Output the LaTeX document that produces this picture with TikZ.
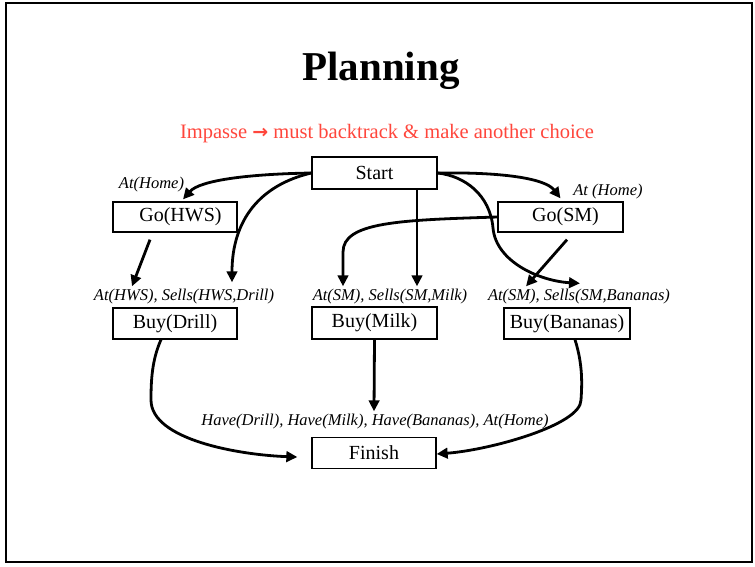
\documentclass[tikz,border=0pt]{standalone}
\usepackage{fontspec}
\setmainfont{Liberation Serif}
\newfontfamily\arrowfont{DejaVu Sans}
\usetikzlibrary{arrows.meta,calc}
\begin{document}
\begin{tikzpicture}[x=1pt,y=-1pt,
  box/.style={draw,line width=1.3pt,rectangle,inner sep=0pt,minimum width=125pt,minimum height=31pt,font=\fontsize{20}{24}\selectfont},
  lab/.style={font=\fontsize{16.5}{19}\selectfont\itshape,inner sep=0pt},
  conn/.style={line width=2.8pt,-{Triangle[length=11pt,width=10.5pt]}},
]
\useasboundingbox (0,0) rectangle (755,566);
\draw[line width=1.6pt] (6,3) rectangle (752,562);

\node[font=\fontsize{41}{48}\selectfont\bfseries] (title) at (381,71) {Planning};
\node[font=\fontsize{20.5}{24}\selectfont,text={rgb,255:red,255;green,70;blue,60}] (impasse) at (387,134) {Impasse {\arrowfont\bfseries\fontsize{19}{24}\selectfont →} must backtrack \& make another choice};

\node[box,minimum height=32pt] (start) at (374.5,173) {Start\hspace{10pt}};
\node[box,minimum width=124pt,minimum height=30pt] (gohws) at (175,217) {\hspace{11pt}Go(HWS)};
\node[box,minimum height=30pt] (gosm) at (560.5,217) {\hspace{10pt}Go(SM)};
\node[box,minimum width=124pt] (buydrill) at (175,323.5) {Buy(Drill)\hspace{22pt}};
\node[box,minimum height=32pt] (buymilk) at (374.5,323) {Buy(Milk)\hspace{10pt}};
\node[box,minimum width=126pt] (buybananas) at (567,323.5) {Buy(Bananas)};
\node[box,minimum width=124pt] (finish) at (374,453) {Finish\hspace{8pt}};

\node[lab] (athome1) at (151.5,185) {At(Home)};
\node[lab] (athome2) at (608,192) {At (Home)};
\node[lab] (labdrill) at (184,297) {At(HWS), Sells(HWS,Drill)};
\node[lab] (labmilk) at (390,297) {At(SM), Sells(SM,Milk)};
\node[lab] (labban) at (579,297) {At(SM), Sells(SM,Bananas)};
\node[lab] (labfinish) at (375,422) {Have(Drill), Have(Milk), Have(Bananas), At(Home)};

% connectors
\draw[conn] (start.west) .. controls (250,174) and (200,180) .. ($(gohws.north)+(8,-2)$);
\draw[conn] (start.west) .. controls (260,185) and (232,220) .. ($(labdrill.north)+(48,-7)$);
\draw[conn] ($(gohws.south)+(-25,7)$) -- ($(labdrill.north)+(-52,-3)$);
\draw[conn] ($(start.south)+(42.5,0)$) -- ($(labmilk.north)+(27,-3)$);
\draw[conn] (gosm.west) .. controls (400,220) and (343,222) .. (343,252) -- ($(labmilk.north)+(-47,-3)$);
\draw[conn] (start.east) .. controls (500,172) and (545,178) .. ($(gosm.north)+(0,-3)$);
\draw[conn] (start.east) .. controls (465,176) and (490,195) .. (493,228)
  .. controls (496,262) and (540,281) .. ($(labban.north)+(1,-6)$);
\draw[conn] ($(gosm.south)+(6.5,7)$) -- ($(labban.north)+(-53,-3)$);
\draw[conn] ($(buydrill.south)+(-14,0)$) .. controls (152,360) and (151,380) .. (151,400)
  .. controls (151,440) and (240,455) .. ($(finish.west)+(-14,4)$);
\draw[conn] (buymilk.south) -- ($(labfinish.north)+(-1,-3)$);
\draw[conn] ($(buybananas.south)+(8,0)$) .. controls (583,365) and (582,385) .. (581,400)
  .. controls (581,425) and (490,450) .. ($(finish.east)+(0,1)$);
\end{tikzpicture}
\end{document}
